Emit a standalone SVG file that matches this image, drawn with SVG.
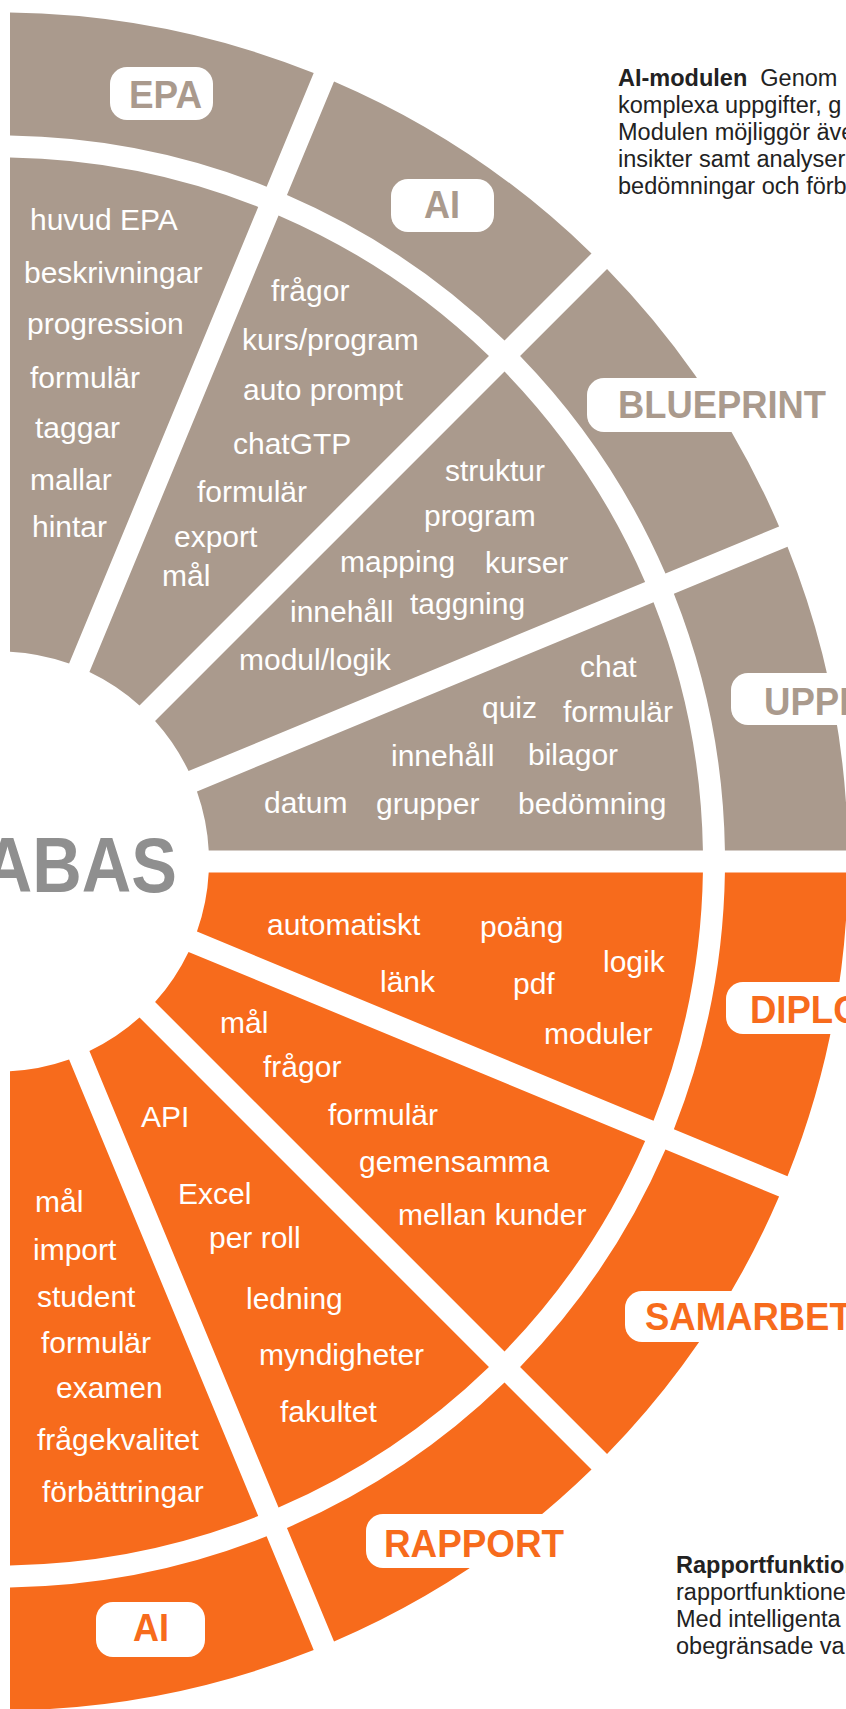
<svg xmlns="http://www.w3.org/2000/svg" width="846" height="1709" viewBox="0 0 846 1709">
<style>
.bg{fill:#ffffff}
.beige{fill:#AA9A8D}
.orange{fill:#F76B1C}
.tag{fill:#ffffff}
.t{font-family:"Liberation Sans",Arial,sans-serif;font-size:30px;fill:#ffffff}
.lb{font-family:"Liberation Sans",Arial,sans-serif;font-size:39px;font-weight:bold}
.lbB{fill:#AA9A8D}
.lbO{fill:#F76B1C}
.hub{font-family:"Liberation Sans",Arial,sans-serif;font-size:77px;font-weight:bold;fill:#8F8F8F}
.d{font-family:"Liberation Sans",Arial,sans-serif;font-size:23.5px;fill:#222222}
.db{font-weight:bold}
</style>
<rect class="bg" x="0" y="0" width="846" height="1709"/>

<g id="hub">
<text class="hub" transform="translate(177 892) scale(0.89 1)" x="0" y="0" text-anchor="end">ABAS</text>
</g>

<!-- TOP HALF -->
<g id="epa-content">
<path class="beige" d="M10 157.586 A704 704 0 0 1 258.213 206.959 L69.091 663.542 A210 210 0 0 0 10 651.788 Z"/>
<text class="t" x="30" y="230">huvud EPA</text>
<text class="t" x="24" y="283">beskrivningar</text>
<text class="t" x="27" y="334">progression</text>
<text class="t" x="30" y="388">formulär</text>
<text class="t" x="35" y="438">taggar</text>
<text class="t" x="30" y="490">mallar</text>
<text class="t" x="32" y="537">hintar</text>
</g>
<g id="epa-label">
<path class="beige" d="M10 12.571 A849 849 0 0 1 313.707 72.982 L266.633 186.631 A726 726 0 0 0 10 135.583 Z"/>
<rect class="tag" x="110" y="67" width="103" height="53" rx="17"/>
<text class="lb lbB" x="129" y="108" textLength="73" lengthAdjust="spacingAndGlyphs">EPA</text>
</g>

<g id="ai-content">
<path class="beige" d="M278.539 215.378 A704 704 0 0 1 488.965 355.979 L139.511 705.433 A210 210 0 0 0 89.417 671.961 Z"/>
<text class="t" x="271" y="301">frågor</text>
<text class="t" x="242" y="350">kurs/program</text>
<text class="t" x="243" y="400">auto prompt</text>
<text class="t" x="233" y="454">chatGTP</text>
<text class="t" x="197" y="502">formulär</text>
<text class="t" x="174" y="547">export</text>
<text class="t" x="162" y="586">mål</text>
</g>
<g id="ai-label">
<path class="beige" d="M334.033 81.401 A849 849 0 0 1 591.506 253.438 L504.523 340.421 A726 726 0 0 0 286.959 195.05 Z"/>
<rect class="tag" x="391" y="179" width="103" height="53" rx="17"/>
<text class="lb lbB" x="424" y="218" textLength="36" lengthAdjust="spacingAndGlyphs">AI</text>
</g>

<g id="blueprint-content">
<path class="beige" d="M504.521 371.535 A704 704 0 0 1 645.122 581.961 L188.54 771.083 A210 210 0 0 0 155.067 720.989 Z"/>
<text class="t" x="445" y="481">struktur</text>
<text class="t" x="424" y="526">program</text>
<text class="t" x="340" y="572">mapping</text>
<text class="t" x="485" y="573">kurser</text>
<text class="t" x="290" y="622">innehåll</text>
<text class="t" x="410" y="614">taggning</text>
<text class="t" x="239" y="670">modul/logik</text>
</g>
<g id="blueprint-label">
<path class="beige" d="M607.062 268.994 A849 849 0 0 1 779.1 526.467 L665.451 573.541 A726 726 0 0 0 520.079 355.977 Z"/>
<rect class="tag" x="587" y="378" width="300" height="54" rx="17"/>
<text class="lb lbB" x="618" y="418" textLength="208" lengthAdjust="spacingAndGlyphs">BLUEPRINT</text>
</g>

<g id="upp-content">
<path class="beige" d="M653.541 602.287 A704 704 0 0 1 702.914 850.5 L208.712 850.5 A210 210 0 0 0 196.958 791.409 Z"/>
<text class="t" x="580" y="677">chat</text>
<text class="t" x="482" y="718">quiz</text>
<text class="t" x="563" y="722">formulär</text>
<text class="t" x="391" y="766">innehåll</text>
<text class="t" x="528" y="765">bilagor</text>
<text class="t" x="264" y="813">datum</text>
<text class="t" x="376" y="814">grupper</text>
<text class="t" x="518" y="814">bedömning</text>
</g>
<g id="upp-label">
<path class="beige" d="M787.519 546.793 A849 849 0 0 1 847.929 850.5 L724.917 850.5 A726 726 0 0 0 673.87 593.867 Z"/>
<rect class="tag" x="731" y="673" width="200" height="52" rx="17"/>
<text class="lb lbB" x="764" y="715" textLength="260" lengthAdjust="spacingAndGlyphs">UPPFÖLJNING</text>
</g>

<!-- BOTTOM HALF -->
<g id="diplom-content">
<path class="orange" d="M653.541 1120.713 A704 704 0 0 0 702.914 872.5 L208.712 872.5 A210 210 0 0 1 196.958 931.591 Z"/>
<text class="t" x="267" y="935">automatiskt</text>
<text class="t" x="480" y="937">poäng</text>
<text class="t" x="603" y="972">logik</text>
<text class="t" x="380" y="992">länk</text>
<text class="t" x="513" y="994">pdf</text>
<text class="t" x="544" y="1044">moduler</text>
</g>
<g id="diplom-label">
<path class="orange" d="M787.519 1176.207 A849 849 0 0 0 847.929 872.5 L724.917 872.5 A726 726 0 0 1 673.87 1129.133 Z"/>
<rect class="tag" x="726" y="982" width="200" height="52" rx="17"/>
<text class="lb lbO" x="750" y="1023" textLength="142" lengthAdjust="spacingAndGlyphs">DIPLOM</text>
</g>

<g id="samarbete-content">
<path class="orange" d="M504.521 1351.465 A704 704 0 0 0 645.122 1141.039 L188.54 951.917 A210 210 0 0 1 155.067 1002.011 Z"/>
<text class="t" x="220" y="1033">mål</text>
<text class="t" x="263" y="1077">frågor</text>
<text class="t" x="328" y="1125">formulär</text>
<text class="t" x="359" y="1172">gemensamma</text>
<text class="t" x="398" y="1225">mellan kunder</text>
</g>
<g id="samarbete-label">
<path class="orange" d="M607.062 1454.006 A849 849 0 0 0 779.1 1196.533 L665.451 1149.459 A726 726 0 0 1 520.079 1367.023 Z"/>
<rect class="tag" x="625" y="1291" width="300" height="51" rx="17"/>
<text class="lb lbO" x="645" y="1330" textLength="231" lengthAdjust="spacingAndGlyphs">SAMARBETE</text>
</g>

<g id="rapport-content">
<path class="orange" d="M278.539 1507.622 A704 704 0 0 0 488.965 1367.021 L139.511 1017.567 A210 210 0 0 1 89.417 1051.039 Z"/>
<text class="t" x="141" y="1127">API</text>
<text class="t" x="178" y="1204">Excel</text>
<text class="t" x="209" y="1248">per roll</text>
<text class="t" x="246" y="1309">ledning</text>
<text class="t" x="259" y="1365">myndigheter</text>
<text class="t" x="280" y="1422">fakultet</text>
</g>
<g id="rapport-label">
<path class="orange" d="M334.033 1641.599 A849 849 0 0 0 591.506 1469.562 L504.523 1382.579 A726 726 0 0 1 286.959 1527.95 Z"/>
<rect class="tag" x="366" y="1514" width="214" height="54" rx="17"/>
<text class="lb lbO" x="384" y="1557" textLength="180" lengthAdjust="spacingAndGlyphs">RAPPORT</text>
</g>

<g id="ai2-content">
<path class="orange" d="M10 1565.414 A704 704 0 0 0 258.213 1516.041 L69.091 1059.458 A210 210 0 0 1 10 1071.212 Z"/>
<text class="t" x="35" y="1212">mål</text>
<text class="t" x="33" y="1260">import</text>
<text class="t" x="37" y="1307">student</text>
<text class="t" x="41" y="1353">formulär</text>
<text class="t" x="56" y="1398">examen</text>
<text class="t" x="37" y="1450">frågekvalitet</text>
<text class="t" x="42" y="1502">förbättringar</text>
</g>
<g id="ai2-label">
<path class="orange" d="M10 1710.429 A849 849 0 0 0 313.707 1650.018 L266.633 1536.369 A726 726 0 0 1 10 1587.417 Z"/>
<rect class="tag" x="96" y="1602" width="109" height="55" rx="17"/>
<text class="lb lbO" x="133" y="1641" textLength="36" lengthAdjust="spacingAndGlyphs">AI</text>
</g>

<g id="ai-description">
<text class="d" x="618" y="86" xml:space="preserve"><tspan class="db">AI-modulen</tspan>  Genom</text>
<text class="d" x="618" y="113">komplexa uppgifter, g</text>
<text class="d" x="618" y="140">Modulen möjliggör även</text>
<text class="d" x="618" y="167">insikter samt analyser</text>
<text class="d" x="618" y="194">bedömningar och förb</text>
</g>

<g id="rapport-description">
<text class="d db" x="676" y="1573">Rapportfunktionen</text>
<text class="d" x="676" y="1600">rapportfunktionen</text>
<text class="d" x="676" y="1627">Med intelligenta</text>
<text class="d" x="676" y="1654">obegränsade va</text>
</g>
</svg>
